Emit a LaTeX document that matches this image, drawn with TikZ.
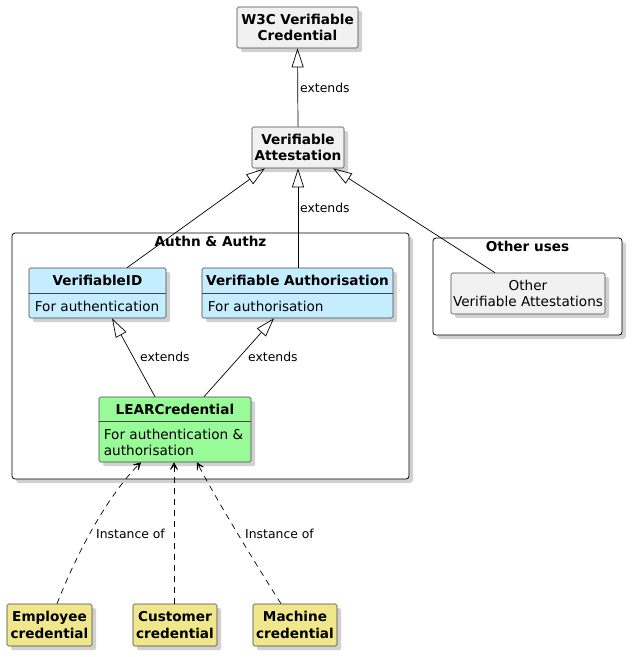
\documentclass[tikz,border=0pt]{standalone}
\usepackage{fontspec}
\setmainfont{DejaVu Sans}
\usetikzlibrary{arrows.meta,shadows,bending}
\definecolor{clgray}{HTML}{F1F1F1}
\definecolor{clblue}{HTML}{C4EEFF}
\definecolor{clgreen}{HTML}{98FB98}
\definecolor{clkhaki}{HTML}{F0E68C}
\definecolor{clline}{HTML}{181818}
\tikzset{
  shad/.style={drop shadow={shadow xshift=4pt,shadow yshift=-4pt,fill=black,opacity=0.18}},
  cls/.style={draw=clline!80, line width=0.6pt, rounded corners=1.5pt, inner sep=0pt, shad},
  pkg/.style={draw=black, line width=0.8pt, rounded corners=3pt, fill=white, inner sep=0pt, shad},
  btxt/.style={font=\fontsize{13.6}{16.5}\selectfont\bfseries, inner sep=0pt, align=center},
  ntxt/.style={font=\fontsize{13.6}{16.5}\selectfont, inner sep=0pt},
  lbl/.style={font=\fontsize{12.4}{15}\selectfont, inner sep=0pt},
  ext/.style={draw=black, line width=0.7pt, -{Triangle[open,length=19pt,width=12pt,line width=0.7pt]}},
  inst/.style={draw=black, line width=0.7pt, dash pattern=on 6pt off 5pt, -{Stealth[length=10pt,width=11pt,inset=6.5pt,flex]}},
  divider/.style={draw=clline!80, line width=0.6pt}
}
\begin{document}
\begin{tikzpicture}[x=1pt,y=-1pt]
\useasboundingbox (0,0) rectangle (632,657);
\fill[white] (0,0) rectangle (632,657);

% packages
\node[pkg, minimum width=397pt, minimum height=246pt] (authn) at (210.5,356) {};
\node[btxt] (authnt) at ([yshift=-9pt]authn.north) {Authn \& Authz};
\node[pkg, minimum width=189pt, minimum height=97pt] (other) at (527.5,286.5) {};
\node[btxt] (othert) at ([yshift=-9pt]other.north) {Other uses};

% top classes
\node[cls, fill=clgray, minimum width=121pt, minimum height=41pt, btxt] (w3c) at (297.5,27.5) {W3C Verifiable\\Credential};
\node[cls, fill=clgray, minimum width=92pt, minimum height=41pt, btxt] (va) at (298,147.5) {Verifiable\\Attestation};

% other verifiable attestations
\node[cls, fill=clgray, minimum width=154pt, minimum height=41pt, ntxt, align=center] (ova) at (528,293.5) {Other\\Verifiable Attestations};

% VerifiableID
\node[cls, fill=clblue, minimum width=137pt, minimum height=50pt] (vid) at (97.5,293) {};
\draw[divider] ([yshift=-26pt]vid.north west) -- ([yshift=-26pt]vid.north east);
\node[btxt] (vidt) at ([yshift=-13pt]vid.north) {VerifiableID};
\node[ntxt, anchor=west] (vidb) at ([xshift=6pt,yshift=12pt]vid.south west) {For authentication};

% Verifiable Authorisation
\node[cls, fill=clblue, minimum width=191pt, minimum height=50pt] (vau) at (297.5,293) {};
\draw[divider] ([yshift=-26pt]vau.north west) -- ([yshift=-26pt]vau.north east);
\node[btxt] (vaut) at ([yshift=-13pt]vau.north) {Verifiable Authorisation};
\node[ntxt, anchor=west] (vaub) at ([xshift=6pt,yshift=12pt]vau.south west) {For authorisation};

% LEARCredential
\node[cls, fill=clgreen, minimum width=152pt, minimum height=65pt] (lear) at (175,429.5) {};
\draw[divider] ([yshift=-25pt]lear.north west) -- ([yshift=-25pt]lear.north east);
\node[btxt] (leart) at ([yshift=-12.5pt]lear.north) {LEARCredential};
\node[ntxt, anchor=west, align=left] (learb) at ([xshift=5pt,yshift=20pt]lear.south west) {For authentication \&\\authorisation};

% bottom credentials
\node[cls, fill=clkhaki, minimum width=85pt, minimum height=42pt, btxt] (emp) at (49.5,625) {Employee\\credential};
\node[cls, fill=clkhaki, minimum width=84pt, minimum height=42pt, btxt] (cus) at (175,625) {Customer\\credential};
\node[cls, fill=clkhaki, minimum width=84pt, minimum height=42pt, btxt] (mac) at (295,625) {Machine\\credential};

% extends connectors
\draw[ext] (va.north) -- (w3c.south);
\node[lbl, anchor=west] (l1) at (300,88) {extends};
\draw[ext] ([xshift=29.5pt]vid.north) -- ([xshift=-33pt]va.south);
\draw[ext] ([xshift=0.5pt]vau.north) -- (va.south);
\node[lbl, anchor=west] (l2) at (300,208) {extends};
\draw[ext] ([xshift=-33pt]ova.north) -- ([xshift=35pt]va.south);
\draw[ext] ([xshift=-20pt]lear.north) -- ([xshift=14.5pt]vid.south);
\node[lbl, anchor=west] (l3) at (140,357) {extends};
\draw[ext] ([xshift=29pt]lear.north) -- ([xshift=-23.5pt]vau.south);
\node[lbl, anchor=west] (l4) at (248,357) {extends};

% instance connectors
\draw[inst] ([xshift=7.5pt]emp.north) .. controls (80,545) and (112,490) .. ([xshift=-34pt]lear.south);
\draw[inst] ([xshift=-1pt]cus.north) -- ([xshift=-1pt]lear.south);
\draw[inst] ([xshift=-14pt]mac.north) .. controls (250,555) and (212,492) .. ([xshift=22pt]lear.south);
\node[lbl, anchor=west] (l5) at (96,534) {Instance of};
\node[lbl, anchor=west] (l6) at (245,534) {Instance of};
\end{tikzpicture}
\end{document}
